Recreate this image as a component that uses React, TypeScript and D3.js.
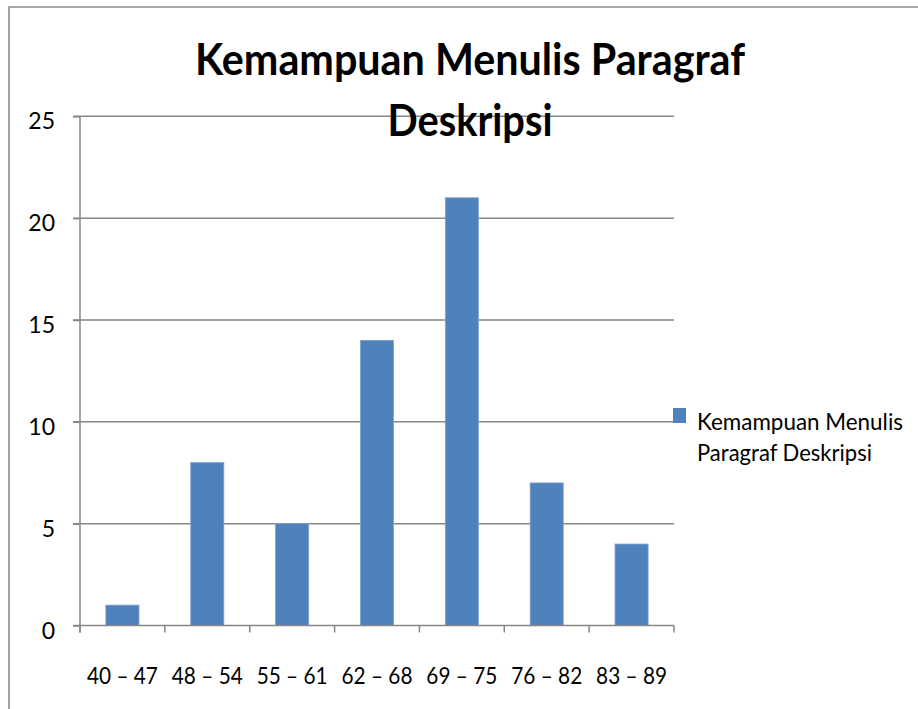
import { useEffect, useRef } from 'react';
import * as d3 from 'd3';

const categories = ['40 – 47', '48 – 54', '55 – 61', '62 – 68', '69 – 75', '76 – 82', '83 – 89'];
const values = [1, 8, 5, 14, 21, 7, 4];
const yTicks = [0, 5, 10, 15, 20, 25];
const titleLines = ['Kemampuan Menulis Paragraf', 'Deskripsi'];
const legendLines = ['Kemampuan Menulis', 'Paragraf Deskripsi'];

const WIDTH = 918;
const HEIGHT = 709;
const FONT = "Lato, 'Open Sans', sans-serif";

export default function App() {
  const svgRef = useRef<SVGSVGElement | null>(null);

  useEffect(() => {
    if (!svgRef.current) return;
    const svg = d3.select(svgRef.current);
    svg.selectAll('*').remove();

    const plot = { left: 80, right: 674, top: 116.3, bottom: 625.5 };
    const axisColor = '#868686';

    const x = d3
      .scaleBand<string>()
      .domain(categories)
      .range([plot.left, plot.right])
      .paddingInner(0.61)
      .paddingOuter(0.305);
    const y = d3.scaleLinear().domain([0, 25]).range([plot.bottom, plot.top]);

    // chart frame (runs off the right and bottom edges in the reference)
    svg
      .append('path')
      .attr('d', `M9,${HEIGHT + 5} V7 H${WIDTH + 5}`)
      .attr('fill', 'none')
      .attr('stroke', '#8c8c8c')
      .attr('stroke-width', 1.6);

    // gridlines
    svg
      .append('g')
      .selectAll('line')
      .data(yTicks.filter((v) => v > 0))
      .join('line')
      .attr('x1', plot.left - 7)
      .attr('x2', plot.right)
      .attr('y1', (v) => y(v))
      .attr('y2', (v) => y(v))
      .attr('stroke', axisColor)
      .attr('stroke-width', 1.5);

    // bars
    svg
      .append('g')
      .selectAll('rect')
      .data(values)
      .join('rect')
      .attr('x', (_, i) => x(categories[i]) ?? 0)
      .attr('y', (v) => y(v))
      .attr('width', x.bandwidth())
      .attr('height', (v) => y(0) - y(v))
      .attr('fill', '#4F81BD')
      .attr('stroke', '#7ea3d0')
      .attr('stroke-width', 0.8);

    // y axis
    const yAxis = d3
      .axisLeft(y)
      .tickValues(yTicks)
      .tickSize(7)
      .tickSizeOuter(0)
      .tickFormat((d) => String(d));
    const gy = svg.append('g').attr('transform', `translate(${plot.left},0)`).call(yAxis);
    gy.select('.domain').attr('stroke', axisColor).attr('stroke-width', 1.5)
      .attr('d', `M0,${plot.top}V${plot.bottom + 7}`);
    gy.selectAll('.tick line').attr('stroke', axisColor).attr('stroke-width', 1.5);
    gy.selectAll('.tick text')
      .attr('x', -25)
      .attr('dy', null)
      .attr('y', 12.5)
      .attr('fill', '#000')
      .attr('font-family', FONT)
      .attr('font-size', 23);

    // x axis
    const gx = svg.append('g');
    gx.append('line')
      .attr('x1', plot.left - 7)
      .attr('x2', plot.right)
      .attr('y1', y(0))
      .attr('y2', y(0))
      .attr('stroke', axisColor)
      .attr('stroke-width', 1.5);
    const boundaries = d3.range(categories.length + 1).map((i) => plot.left + i * x.step());
    gx.selectAll('line.tick')
      .data(boundaries)
      .join('line')
      .attr('class', 'tick')
      .attr('x1', (d) => d)
      .attr('x2', (d) => d)
      .attr('y1', y(0))
      .attr('y2', y(0) + 7)
      .attr('stroke', axisColor)
      .attr('stroke-width', 1.5);
    gx.selectAll('text')
      .data(categories)
      .join('text')
      .attr('x', (d) => (x(d) ?? 0) + x.bandwidth() / 2)
      .attr('y', 684)
      .attr('text-anchor', 'middle')
      .attr('textLength', 71)
      .attr('lengthAdjust', 'spacingAndGlyphs')
      .attr('font-family', FONT)
      .attr('font-size', 23)
      .attr('fill', '#000')
      .text((d) => d);

    // title
    const titleWidths = [550, 165];
    svg
      .append('g')
      .selectAll('text')
      .data(titleLines)
      .join('text')
      .attr('x', (_, i) => 470 - titleWidths[i] / 2)
      .attr('y', (_, i) => 75 + i * 61)
      .attr('textLength', (_, i) => titleWidths[i])
      .attr('lengthAdjust', 'spacingAndGlyphs')
      .attr('font-family', FONT)
      .attr('font-weight', 700)
      .attr('font-size', 43)
      .attr('fill', '#000')
      .text((d) => d);

    // legend
    const legendWidths = [206, 175];
    const legend = svg.append('g');
    legend
      .append('rect')
      .attr('x', 673)
      .attr('y', 408)
      .attr('width', 13)
      .attr('height', 15)
      .attr('fill', '#4F81BD');
    legend
      .selectAll('text')
      .data(legendLines)
      .join('text')
      .attr('x', 697)
      .attr('y', (_, i) => 430 + i * 31)
      .attr('textLength', (_, i) => legendWidths[i])
      .attr('lengthAdjust', 'spacingAndGlyphs')
      .attr('font-family', FONT)
      .attr('font-size', 23)
      .attr('fill', '#000')
      .text((d) => d);
  }, []);

  return (
    <div style={{ position: 'absolute', left: 0, top: 0 }}>
      <svg ref={svgRef} width={WIDTH} height={HEIGHT} style={{ display: 'block', background: '#fff' }} />
    </div>
  );
}
